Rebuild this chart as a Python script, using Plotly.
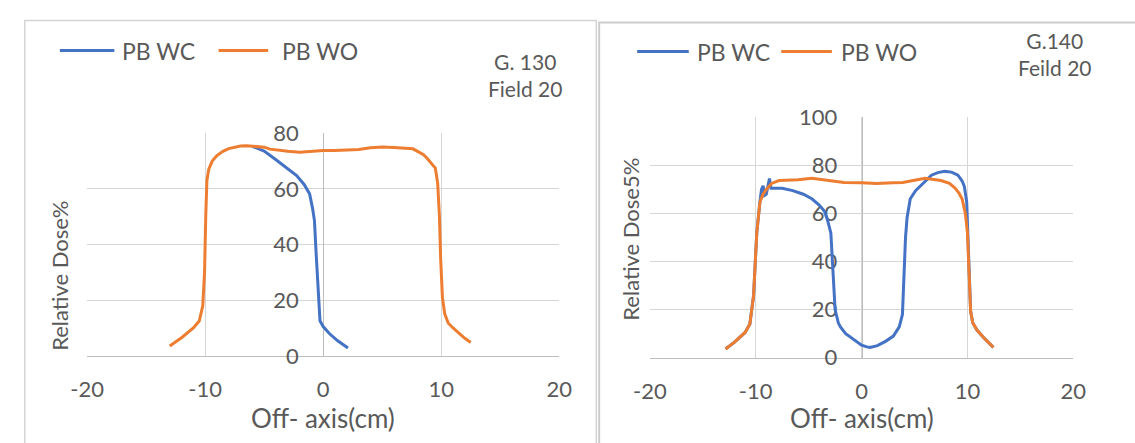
import plotly.graph_objects as go

W, H = 1135, 443

# ---------------- data ----------------
# Panel 1: G. 130, Field 20
p1_wc_x = [-6, -5, -4, -3, -2.25, -1.6, -1.15, -0.9, -0.74, -0.6, -0.47, -0.35, -0.27, 0, 0.5, 1.2, 2.1]
p1_wc_y = [75.3, 73.6, 70.5, 67.4, 64.8, 61.5, 58.2, 53, 48.6, 37, 26, 18, 12.6, 10.5, 8.1, 5.5, 2.8]

p1_wo_x = [-13, -12, -11, -10.5, -10.2, -10.05, -9.95, -9.85, -9.7, -9.4, -9, -8.5, -8, -7.5, -7, -6.5,
           -6, -5, -4.5, -4, -3, -2, -1, 0, 1, 2, 3, 4, 5, 6, 7, 7.6, 8, 8.5, 8.8, 9.2, 9.5, 9.7,
           9.85, 9.95, 10.1, 10.3, 10.6, 11, 11.5, 12, 12.5]
p1_wo_y = [3.5, 6.5, 10, 12.5, 18, 30, 50, 63, 67, 70, 72, 73.5, 74.5, 75, 75.4, 75.5,
           75.3, 75, 74.3, 74, 73.5, 73.2, 73.6, 73.8, 73.8, 74, 74.2, 74.8, 75.1, 74.9, 74.7, 74.4, 73.5, 72.3, 71, 69, 67.5, 62,
           50, 35, 21, 15, 11.7, 10, 8, 6.3, 4.8]

# Panel 2: G.140, Feild 20
p2_wc_x = [-12.85, -12, -11, -10.55, -10.2, -9.9, -9.6, -9.45, -9.3, -9.15, -9.0, -8.85, -8.7, -8.55, -8.3,
           -7.5, -6.5, -5.5, -4.7, -4, -3.5, -3.2, -2.9, -2.75, -2.65, -2.5, -2.2, -2.0, -1.5, -0.74, 0, 0.5,
           0.8, 1.5, 2.3, 3, 3.56, 3.86, 3.95, 4.05, 4.15, 4.3, 4.6, 5.1, 5.7, 6.6, 7.2, 7.85, 8.5, 9.1, 9.5,
           9.7, 9.93, 10.05, 10.15, 10.3, 10.5, 10.9, 11.5, 12, 12.45]
p2_wc_y = [3.6, 6.5, 10.5, 14, 25.8, 51.8, 64.8, 70, 71.5, 67.5, 68, 71, 74.5, 70.5, 70.5,
           70.5, 69.5, 68, 66.1, 63.5, 60.9, 57, 51.8, 40, 28, 20, 14.5, 12.8, 10, 7.5, 5.2, 4.5,
           4.3, 5, 6.9, 9, 12.8, 18, 28, 40, 50, 58.3, 66.1, 69.5, 72, 75.9, 77, 77.5, 77.2, 75.9, 73.5,
           71.4, 64.8, 50, 35, 19.3, 14.5, 11.5, 8.5, 6.3, 4.3]

p2_wo_x = [-12.85, -12, -11, -10.55, -10.2, -9.9, -9.6, -9.3, -9, -8.5, -7.8, -6, -4.7, -3, -1.66, 0, 1.4,
           3, 3.9, 5, 6, 7.5, 8.3, 8.8, 9.2, 9.5, 9.8, 10.0, 10.15, 10.3, 10.5, 10.9, 11.5, 12, 12.45]
p2_wo_y = [3.6, 6.5, 10.5, 14, 25.8, 51.8, 64.8, 68, 70, 72.5, 73.7, 74, 74.6, 73.5, 72.9, 72.8, 72.5,
           72.8, 72.9, 73.8, 74.6, 73.7, 72.5, 70.7, 68.5, 66, 60, 51.9, 35, 19.3, 14.5, 11.5, 8.5, 6.3, 4.3]

series_names = ["PB WC", "PB WO"]
x_ticks = [-20, -10, 0, 10, 20]
x_tick_text = ["-20", "-10", "0", "10", "20"]
p1_y_ticks = [0, 20, 40, 60, 80]
p2_y_ticks = [0, 20, 40, 60, 80, 100]
p1_label = "G. 130<br>Field 20"
p2_label = "G.140<br>Feild 20"
x_title = "Off- axis(cm)"
p1_y_title = "Relative Dose%"
p2_y_title = "Relative Dose5%"

# ---------------- style ----------------
BLUE = "#4472C4"
ORANGE = "#ED7D31"
TXT = "#595959"
GRID = "#D6D6D6"
AXL = "#BDBDBD"
FONT = "Lato"
FS = 22


def fx(px):
    return px / W


def fy(py):
    return 1 - py / H


fig = go.Figure()
fig.add_trace(go.Scatter(x=p1_wc_x, y=p1_wc_y, mode="lines", name=series_names[0],
                         line=dict(color=BLUE, width=3), xaxis="x", yaxis="y", showlegend=False))
fig.add_trace(go.Scatter(x=p1_wo_x, y=p1_wo_y, mode="lines", name=series_names[1],
                         line=dict(color=ORANGE, width=3), xaxis="x", yaxis="y", showlegend=False))
fig.add_trace(go.Scatter(x=p2_wc_x, y=p2_wc_y, mode="lines", name=series_names[0],
                         line=dict(color=BLUE, width=3), xaxis="x2", yaxis="y2", showlegend=False))
fig.add_trace(go.Scatter(x=p2_wo_x, y=p2_wo_y, mode="lines", name=series_names[1],
                         line=dict(color=ORANGE, width=3), xaxis="x2", yaxis="y2", showlegend=False))

xcommon = dict(range=[-20, 20], tickvals=x_ticks, ticktext=x_tick_text, showgrid=True, gridcolor=GRID,
               gridwidth=1, zeroline=False, showline=True, linecolor=AXL, linewidth=1,
               ticks="outside", ticklen=14, tickcolor="rgba(0,0,0,0)",
               tickfont=dict(family=FONT, size=FS, color=TXT), layer="below traces")
ycommon = dict(showgrid=True, gridcolor=GRID, gridwidth=1, zeroline=False, showline=True,
               linecolor=AXL, linewidth=1, ticks="outside", ticklen=20, tickcolor="rgba(0,0,0,0)",
               tickfont=dict(family=FONT, size=FS, color=TXT), layer="below traces", anchor="free")

p1_x0, p1_x1, p1_ytop, p1_ybot = 72, 557, 127, 364
p2_x0, p2_x1, p2_ytop, p2_ybot = 650, 1085, 110, 366

fig.update_layout(
    width=W, height=H, autosize=False,
    margin=dict(l=0, r=0, t=0, b=0),
    paper_bgcolor="white", plot_bgcolor="white",
    font=dict(family=FONT, size=FS, color=TXT),
    showlegend=False,
    xaxis=dict(domain=[fx(p1_x0), fx(p1_x1)], anchor="y", **xcommon),
    yaxis=dict(domain=[fy(p1_ybot), fy(p1_ytop)], range=[0, 80], tickvals=p1_y_ticks,
               position=fx((p1_x0 + p1_x1) / 2), **ycommon),
    xaxis2=dict(domain=[fx(p2_x0), fx(p2_x1)], anchor="y2", **xcommon),
    yaxis2=dict(domain=[fy(p2_ybot), fy(p2_ytop)], range=[0, 100], tickvals=p2_y_ticks,
                position=fx((p2_x0 + p2_x1) / 2), **ycommon),
)

shapes = []
# panel frames
shapes.append(dict(type="rect", xref="paper", yref="paper", x0=fx(8), x1=fx(595), y0=fy(460), y1=fy(7),
                   line=dict(color="#D4D4D4", width=1.5), fillcolor="rgba(0,0,0,0)", layer="below"))
shapes.append(dict(type="rect", xref="paper", yref="paper", x0=fx(598), x1=fx(1150), y0=fy(460), y1=fy(9),
                   line=dict(color="#CCCCCC", width=2), fillcolor="rgba(0,0,0,0)", layer="below"))

ann = []
# legends (line swatches + text)
legend_items = [
    (44, 100, 106, 39, BLUE, series_names[0]),
    (207, 258, 270, 39, ORANGE, series_names[1]),
    (637, 690, 696, 40, BLUE, series_names[0]),
    (785, 837, 844, 40, ORANGE, series_names[1]),
]
for lx0, lx1, tx, ly, col, name in legend_items:
    shapes.append(dict(type="line", xref="paper", yref="paper", x0=fx(lx0), x1=fx(lx1), y0=fy(ly), y1=fy(ly),
                       line=dict(color=col, width=3)))
    ann.append(dict(text=name, xref="paper", yref="paper", x=fx(tx), y=fy(ly), xanchor="left", yanchor="middle",
                    showarrow=False, font=dict(family=FONT, size=FS + 1, color=TXT)))

# panel labels
ann.append(dict(text=p1_label, xref="paper", yref="paper", x=fx(522), y=fy(65), xanchor="center",
                yanchor="middle", align="center", showarrow=False, font=dict(family=FONT, size=FS - 1, color=TXT)))
ann.append(dict(text=p2_label, xref="paper", yref="paper", x=fx(1066), y=fy(43), xanchor="center",
                yanchor="middle", align="center", showarrow=False, font=dict(family=FONT, size=FS - 1, color=TXT)))

# axis titles
ann.append(dict(text=x_title, xref="paper", yref="paper", x=fx(314), y=fy(430), xanchor="center",
                yanchor="middle", showarrow=False, font=dict(family=FONT, size=FS + 4, color=TXT)))
ann.append(dict(text=x_title, xref="paper", yref="paper", x=fx(868), y=fy(430), xanchor="center",
                yanchor="middle", showarrow=False, font=dict(family=FONT, size=FS + 4, color=TXT)))
ann.append(dict(text=p1_y_title, xref="paper", yref="paper", x=fx(44), y=fy(279), xanchor="center",
                yanchor="middle", textangle=-90, showarrow=False, font=dict(family=FONT, size=FS, color=TXT)))
ann.append(dict(text=p2_y_title, xref="paper", yref="paper", x=fx(630), y=fy(240), xanchor="center",
                yanchor="middle", textangle=-90, showarrow=False, font=dict(family=FONT, size=FS, color=TXT)))

fig.update_layout(shapes=shapes, annotations=ann)
fig.write_html("out.html", config={"displayModeBar": False},
               post_script="document.body.style.margin='0';document.body.style.overflow='hidden';")
